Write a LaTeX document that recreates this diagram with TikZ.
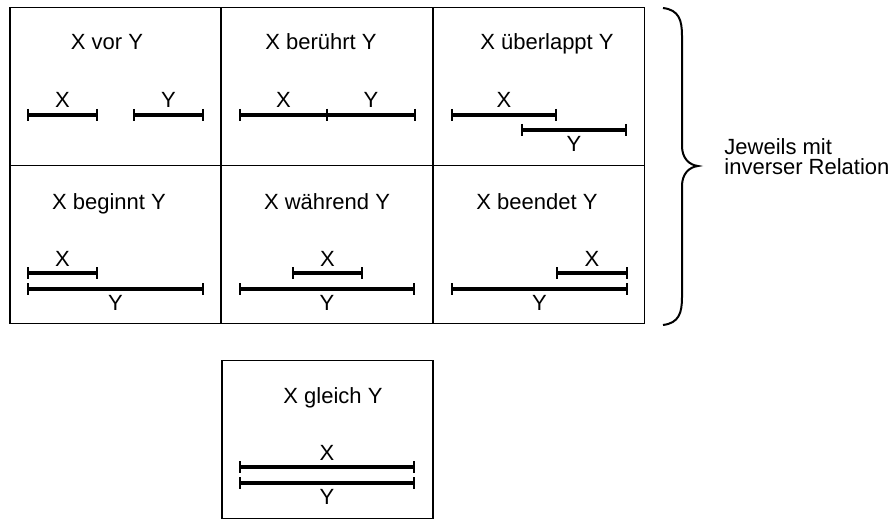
\documentclass[tikz,border=0pt]{standalone}
\usepackage{fontspec}
\setmainfont{Liberation Sans}
\usepackage{tikz}

% bar with end ticks and a label
\newcommand{\interval}[6]{%
  \draw[bar] (#2,#4) -- (#3,#4);
  \draw[tick] (#2,#4-6) -- (#2,#4+6);
  \draw[tick] (#3,#4-6) -- (#3,#4+6);
  \node[#6] (#1) at ({(#2+#3)/2},#4) {#5};}

\begin{document}
\begin{tikzpicture}[x=0.5pt,y=-0.5pt,
    every node/.style={font=\fontsize{11}{13}\selectfont,inner sep=0pt},
    cell/.style={draw,line width=0.8pt,minimum width=105.5pt,minimum height=79pt,outer sep=0pt},
    title/.style={anchor=base},
    bar/.style={line width=2pt},
    tick/.style={line width=0.6pt},
    labove/.style={anchor=base,yshift=3.5pt},
    lbelow/.style={anchor=base,yshift=-10.75pt}]
    \useasboundingbox (0,0) rectangle (894,519);

    % Cells
    \node[cell] (vor)        at (115.5,86.5)  {};
    \node[cell] (beruehrt)   at (327,86.5)    {};
    \node[cell] (ueberlappt) at (539,86.5)    {};
    \node[cell] (beginnt)    at (115.5,244.5) {};
    \node[cell] (waehrend)   at (327,244.5)   {};
    \node[cell] (beendet)    at (539,244.5)   {};
    \node[cell] (gleich)     at (327.5,439.5) {};

    % Titles
    \node[title] (tvor)        at (107,50)  {X vor Y};
    \node[title] (tberuehrt)   at (321,50)  {X berührt Y};
    \node[title] (tueberlappt) at (547,50)  {X überlappt Y};
    \node[title] (tbeginnt)    at (109,209) {X beginnt Y};
    \node[title] (twaehrend)   at (327,209) {X während Y};
    \node[title] (tbeendet)    at (537,209) {X beendet Y};
    \node[title] (tgleich)     at (333,403) {X gleich Y};

    % X vor Y
    \interval{vx}{28}{97}{115}{X}{labove}
    \interval{vy}{134}{203}{115}{Y}{labove}
    % X beruehrt Y
    \interval{bx}{240}{327}{115}{X}{labove}
    \interval{by}{327}{415}{115}{Y}{labove}
    % X ueberlappt Y
    \interval{ux}{452}{556}{115}{X}{labove}
    \interval{uy}{522}{626}{130}{Y}{lbelow}
    % X beginnt Y
    \interval{gx}{28}{97}{273}{X}{labove}
    \interval{gy}{28}{203}{289}{Y}{lbelow}
    % X waehrend Y
    \interval{wx}{293}{362}{273}{X}{labove}
    \interval{wy}{240}{414}{289}{Y}{lbelow}
    % X beendet Y
    \interval{ex}{557}{627}{273}{X}{labove}
    \interval{ey}{452}{627}{289}{Y}{lbelow}
    % X gleich Y
    \interval{qx}{240}{414}{467}{X}{labove}
    \interval{qy}{240}{414}{483}{Y}{lbelow}

    % Brace
    \draw[line width=1pt] (663,8) .. controls (679,10) and (682,20) .. (682,36)
      -- (682,146) .. controls (682,158) and (689,165) .. (698,166)
      .. controls (689,167) and (682,174) .. (682,186)
      -- (682,297) .. controls (682,313) and (679,323) .. (663,325);
    \node[anchor=west,align=left,font=\fontsize{11}{10}\selectfont] (inv) at (724,157)
      {Jeweils mit\\inverser Relation};
\end{tikzpicture}
\end{document}
